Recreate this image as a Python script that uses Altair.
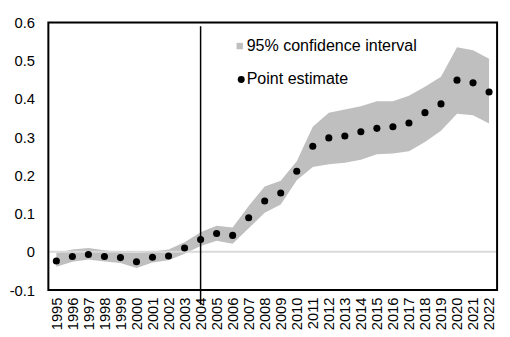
import altair as alt
import pandas as pd

years = [str(y) for y in range(1995, 2023)]
estimate = [-0.024, -0.012, -0.007, -0.012, -0.015, -0.026, -0.014, -0.011, 0.010, 0.032,
            0.048, 0.043, 0.089, 0.133, 0.154, 0.211, 0.276, 0.298, 0.303, 0.314,
            0.323, 0.327, 0.337, 0.364, 0.387, 0.449, 0.442, 0.418]
upper = [-0.003, 0.006, 0.010, 0.004, -0.001, -0.003, 0.001, 0.006, 0.025, 0.051,
         0.068, 0.064, 0.120, 0.171, 0.186, 0.237, 0.327, 0.364, 0.372, 0.381,
         0.394, 0.394, 0.408, 0.432, 0.458, 0.535, 0.527, 0.505]
lower = [-0.039, -0.026, -0.020, -0.025, -0.029, -0.042, -0.028, -0.022, -0.005, 0.015,
         0.029, 0.021, 0.062, 0.102, 0.124, 0.187, 0.222, 0.229, 0.233, 0.241,
         0.255, 0.257, 0.263, 0.287, 0.317, 0.361, 0.357, 0.336]
event_year = ["2004"]
legend_labels = ["95% confidence interval", "Point estimate"]

df = pd.DataFrame({"year": years, "est": estimate, "lo": lower, "hi": upper})

FONT = "Liberation Sans"
W, H = 456, 272
YSCALE = alt.Scale(domain=[-0.1, 0.6], nice=False, zero=False)

XAXIS = alt.Axis(title=None, labelAngle=-90, ticks=False, domain=False,
                 labelFontSize=15, labelFont=FONT, labelColor="#000000",
                 labelPadding=7, labelOverlap=False)
YAXIS = alt.Axis(title=None, values=[-0.1, 0, 0.1, 0.2, 0.3, 0.4, 0.5, 0.6],
                 labelExpr="datum.value == 0 ? '0' : replace(format(datum.value, '.1f'), '\u2212', '-')",
                 grid=False, ticks=False, domain=False, labelFontSize=15,
                 labelFont=FONT, labelColor="#000000", labelPadding=14,
                 labelOverlap=False, labelFlush=False, labelBound=False)

xs = alt.X("year:O", scale=alt.Scale(type="point", padding=0.5), axis=XAXIS)

base = alt.Chart(df)

area = base.mark_area(color="#bfbfbf", opacity=1).encode(
    x=xs, y=alt.Y("lo:Q", scale=YSCALE, axis=YAXIS), y2="hi:Q")

points = base.mark_circle(color="#000000", size=52, opacity=1).encode(
    x=xs, y=alt.Y("est:Q", scale=YSCALE, axis=YAXIS))

zero = alt.Chart(pd.DataFrame({"z": [0]})).mark_rule(color="#d9d9d9", strokeWidth=2).encode(
    y=alt.Y("z:Q", axis=YAXIS), x=alt.value(0), x2=alt.value(W))

vline = alt.Chart(pd.DataFrame({"year": event_year})).mark_rule(color="#000000", strokeWidth=1.5).encode(
    x=alt.X("year:O", axis=XAXIS), y=alt.value(4), y2=alt.value(287))

frame = alt.Chart(pd.DataFrame({"f": [0]})).mark_rect(
    fill=None, stroke="#000000", strokeWidth=2).encode(
    x=alt.value(0), x2=alt.value(W), y=alt.value(0), y2=alt.value(H))

leg_sq = alt.Chart(pd.DataFrame({"l": [legend_labels[0]]})).mark_square(
    color="#bfbfbf", size=42, opacity=1).encode(x=alt.value(194.5), y=alt.value(24))
leg_dot = alt.Chart(pd.DataFrame({"l": [legend_labels[1]]})).mark_circle(
    color="#000000", size=50, opacity=1).encode(x=alt.value(196), y=alt.value(58))
leg_t1 = alt.Chart(pd.DataFrame({"l": [legend_labels[0]]})).mark_text(
    align="left", baseline="middle", font=FONT, fontSize=16.3, color="#000000").encode(
    text="l:N", x=alt.value(201.5), y=alt.value(24))
leg_t2 = alt.Chart(pd.DataFrame({"l": [legend_labels[1]]})).mark_text(
    align="left", baseline="middle", font=FONT, fontSize=16.3, color="#000000").encode(
    text="l:N", x=alt.value(201.5), y=alt.value(58))

chart = alt.layer(area, zero, points, vline, frame, leg_sq, leg_dot, leg_t1, leg_t2).properties(
    width=W, height=H,
    autosize=alt.AutoSizeParams(type="none"),
    padding={"left": 41, "top": 12, "right": 5, "bottom": 45},
).configure_view(stroke=None).configure(background="#ffffff")

chart.save("out.html", embed_options={"renderer": "svg", "actions": False})
